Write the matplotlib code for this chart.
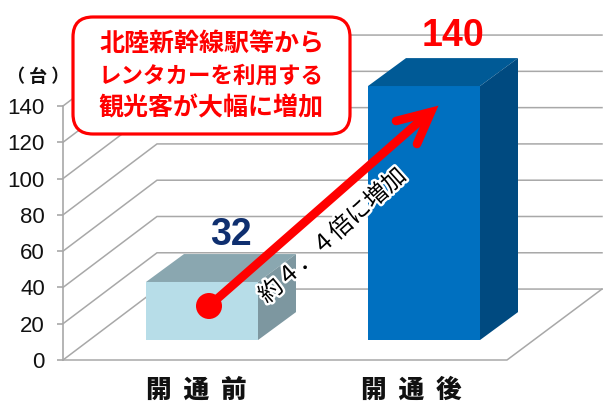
import matplotlib
matplotlib.use("Agg")
import matplotlib.pyplot as plt
from matplotlib.patches import Polygon, FancyBboxPatch, Circle
import matplotlib.patheffects as pe

categories = ["開  通  前", "開  通  後"]
values = [32, 140]
value_labels = ["32", "140"]
yticks = [0, 20, 40, 60, 80, 100, 120, 140]
unit_label = "（ 台 ）"
callout_lines = ["北陸新幹線駅等から", "レンタカーを利用する", "観光客が大幅に増加"]
arrow_label = "約４．４倍に増加"

W, H = 603, 403
CJK = ["Noto Sans CJK JP", "DejaVu Sans"]
LATIN = ["Liberation Sans", "DejaVu Sans"]
GRID = "#a8a8a8"

fig = plt.figure(figsize=(W / 100, H / 100), dpi=100)
ax = fig.add_axes([63 / W, (H - 360) / H, 444 / W, 254 / H])
ax.set_xlim(0, 444)
ax.set_ylim(0, 140)
for s in ["top", "right", "bottom"]:
    ax.spines[s].set_visible(False)
ax.spines["left"].set_color(GRID)
ax.spines["left"].set_linewidth(1.2)
ax.patch.set_alpha(0)

wall_dx, wall_dy = 94, 39.1
for t in yticks:
    ax.plot([0, wall_dx, 539], [t, t + wall_dy, t + wall_dy], color=GRID, lw=1.1,
            clip_on=False, zorder=1, solid_joinstyle="miter")
ax.plot([0, 444, 539], [0, 0, wall_dy], color=GRID, lw=1.1, clip_on=False, zorder=1)

ax.set_yticks(yticks)
ax.set_yticklabels([str(t) for t in yticks], fontfamily=LATIN, fontsize=16, color="#111111")
ax.tick_params(axis="y", length=4.5, width=1.2, color=GRID, pad=8.5)
ax.set_xticks([133, 348])
ax.set_xticklabels(categories, fontfamily=CJK, fontsize=18.5, fontweight=900, color="#111111")
ax.tick_params(axis="x", length=0, pad=12)

bar_left = [83, 305]
bar_w = 112
base = 11
dx, dy = 38, 15.4
front_c = ["#b7dde8", "#0070c0"]
top_c = ["#8aa7b0", "#005a96"]
side_c = ["#7d97a0", "#004a80"]
for x, v, fc, tc, sc in zip(bar_left, values, front_c, top_c, side_c):
    y0, y1 = base, base + v
    ax.add_patch(Polygon([(x, y0), (x + bar_w, y0), (x + bar_w, y1), (x, y1)],
                         fc=fc, ec="none", clip_on=False, zorder=3))
    ax.add_patch(Polygon([(x, y1), (x + bar_w, y1), (x + bar_w + dx, y1 + dy), (x + dx, y1 + dy)],
                         fc=tc, ec="none", clip_on=False, zorder=3))
    ax.add_patch(Polygon([(x + bar_w, y0), (x + bar_w + dx, y0 + dy), (x + bar_w + dx, y1 + dy), (x + bar_w, y1)],
                         fc=sc, ec="none", clip_on=False, zorder=3))

ov = fig.add_axes([0, 0, 1, 1])
ov.set_xlim(0, W)
ov.set_ylim(H, 0)
ov.axis("off")
ov.patch.set_alpha(0)

ov.add_patch(FancyBboxPatch((73 + 20, 17 + 20), 277 - 40, 117 - 40,
                            boxstyle="round,pad=20,rounding_size=20",
                            fc="white", ec="#ff0000", lw=2.3, zorder=5))
for line, y, fs in zip(callout_lines, [44, 76, 108], [18, 16.2, 18]):
    ov.text(211.5, y, line, family=CJK, fontsize=fs, fontweight="bold", color="#ff0000",
            ha="center", va="center", zorder=6)

ov.text(38, 76, unit_label, family=CJK, fontsize=13, fontweight="bold", color="#111111",
        ha="center", va="center")
ov.text(231, 235, value_labels[0], family=LATIN, fontsize=27, fontweight="bold",
        color="#0f2f6f", ha="center", va="center", zorder=6)
ov.text(453, 36, value_labels[1], family=LATIN, fontsize=27, fontweight="bold",
        color="#ff0000", ha="center", va="center", zorder=6)

red = "#ff0000"
ov.plot([209, 429], [306, 113], color=red, lw=6.2, solid_capstyle="round", zorder=7)
ov.plot([396, 431, 417], [121, 112, 144], color=red, lw=6.2, solid_capstyle="round",
        solid_joinstyle="miter", zorder=7)
ov.add_patch(Circle((209, 306), 13, fc=red, ec="none", zorder=8))

ov.text(333, 236, arrow_label, family=CJK, fontsize=17, color="black", rotation=42,
        rotation_mode="anchor", ha="center", va="center", zorder=9,
        path_effects=[pe.withStroke(linewidth=3.5, foreground="white")])

fig.savefig("out.png", dpi=100, facecolor="white")
